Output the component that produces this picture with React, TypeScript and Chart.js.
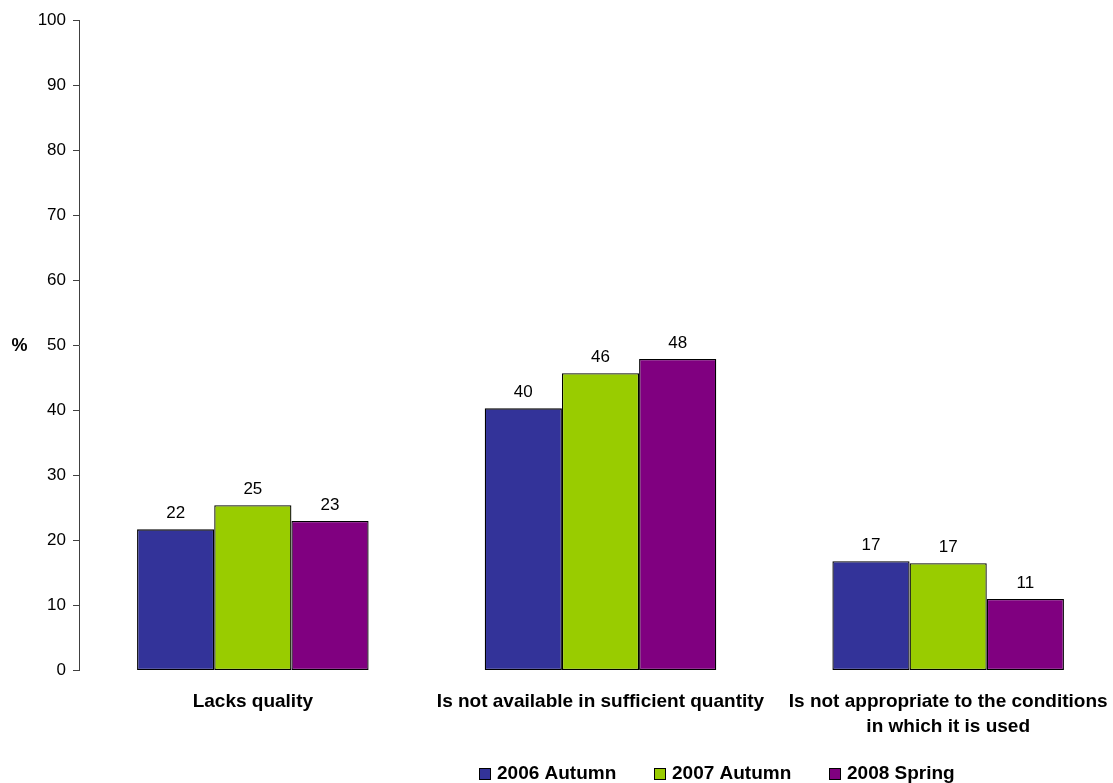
import React, { useEffect, useRef } from 'react';
import { Chart, registerables } from 'chart.js';

Chart.register(...registerables);

// Survey categories (multi-line label is an array of lines)
const categories: (string | string[])[] = [
  'Lacks quality',
  'Is not available in sufficient quantity',
  ['Is not appropriate to the conditions', 'in which it is used'],
];

// Series values, in percent
const autumn2006 = [21.7, 40.3, 16.8];
const autumn2007 = [25.4, 45.7, 16.5];
const spring2008 = [23.0, 47.9, 11.0];

const seriesNames = ['2006 Autumn', '2007 Autumn', '2008 Spring'];
const seriesColors = ['#333399', '#99CC00', '#800080'];

// Value axis
const yMin = 0;
const yMax = 100;
const yStep = 10;
const yAxisTitle = '%';

const FONT = '"Liberation Sans", Arial, Helvetica, sans-serif';

// Rounded value labels above each bar
const valueLabels = {
  id: 'valueLabels',
  afterDatasetsDraw(chart: any) {
    const ctx = chart.ctx;
    ctx.save();
    ctx.font = `17px ${FONT}`;
    ctx.fillStyle = '#000';
    ctx.textAlign = 'center';
    ctx.textBaseline = 'alphabetic';
    chart.data.datasets.forEach((ds: any, i: number) => {
      const meta = chart.getDatasetMeta(i);
      meta.data.forEach((bar: any, j: number) => {
        const v = ds.data[j] as number;
        ctx.fillText(String(Math.round(v)), bar.x, bar.y - 11);
      });
    });
    ctx.restore();
  },
};

// Horizontal "%" title left of the value axis
const yTitle = {
  id: 'yTitle',
  afterDraw(chart: any) {
    const ctx = chart.ctx;
    const y = chart.scales.y.getPixelForValue(50);
    ctx.save();
    ctx.font = `bold 18px ${FONT}`;
    ctx.fillStyle = '#000';
    ctx.textAlign = 'center';
    ctx.textBaseline = 'middle';
    ctx.fillText(yAxisTitle, 19.5, y + 1);
    ctx.restore();
  },
};

// Legend row along the bottom
const bottomLegend = {
  id: 'bottomLegend',
  afterDraw(chart: any) {
    const ctx = chart.ctx;
    const y = 774;
    let x = 479;
    ctx.save();
    ctx.font = `bold 19px ${FONT}`;
    ctx.textBaseline = 'middle';
    ctx.textAlign = 'left';
    chart.data.datasets.forEach((ds: any) => {
      ctx.fillStyle = ds.backgroundColor;
      ctx.fillRect(x, y - 6, 12, 12);
      ctx.strokeStyle = '#000';
      ctx.lineWidth = 1;
      ctx.strokeRect(x + 0.5, y - 5.5, 11, 11);
      ctx.fillStyle = '#000';
      ctx.fillText(ds.label, x + 18, y);
      x += 175;
    });
    ctx.restore();
  },
};

export default function App() {
  const canvasRef = useRef<HTMLCanvasElement | null>(null);

  useEffect(() => {
    if (!canvasRef.current) return;
    const series = [autumn2006, autumn2007, spring2008];
    const chart = new Chart(canvasRef.current, {
      type: 'bar',
      data: {
        labels: categories,
        datasets: series.map((values, i) => ({
          label: seriesNames[i],
          data: values,
          backgroundColor: seriesColors[i],
          borderColor: '#000',
          borderWidth: 1.3,
          borderSkipped: false,
          categoryPercentage: 0.666,
          barPercentage: 1,
        })),
      },
      options: {
        responsive: false,
        animation: false,
        layout: { padding: { top: 20, left: 0, right: 0, bottom: 32.5 } },
        plugins: {
          legend: { display: false },
          tooltip: { enabled: false },
        },
        scales: {
          x: {
            grid: { display: false },
            border: { display: false },
            ticks: {
              color: '#000',
              font: { family: FONT, size: 19, weight: 'bold', lineHeight: 25 / 19 },
              padding: 11,
              maxRotation: 0,
              autoSkip: false,
            },
            afterFit(scale: any) {
              scale.height = 80;
            },
          },
          y: {
            min: yMin,
            max: yMax,
            grid: {
              drawOnChartArea: false,
              drawTicks: true,
              tickLength: 6,
              color: '#404040',
            },
            border: { display: true, color: '#404040', width: 1 },
            ticks: {
              stepSize: yStep,
              color: '#000',
              font: { family: FONT, size: 17 },
              padding: 7,
            },
            afterFit(scale: any) {
              scale.width = 79;
            },
          },
        },
      },
      plugins: [valueLabels, yTitle, bottomLegend],
    });
    return () => chart.destroy();
  }, []);

  return (
    <div
      style={{
        position: 'fixed',
        left: 0,
        top: 0,
        width: '1113px',
        height: '783px',
        overflow: 'hidden',
        background: '#fff',
      }}
    >
      <canvas ref={canvasRef} width={1122} height={783} style={{ display: 'block' }} />
    </div>
  );
}
